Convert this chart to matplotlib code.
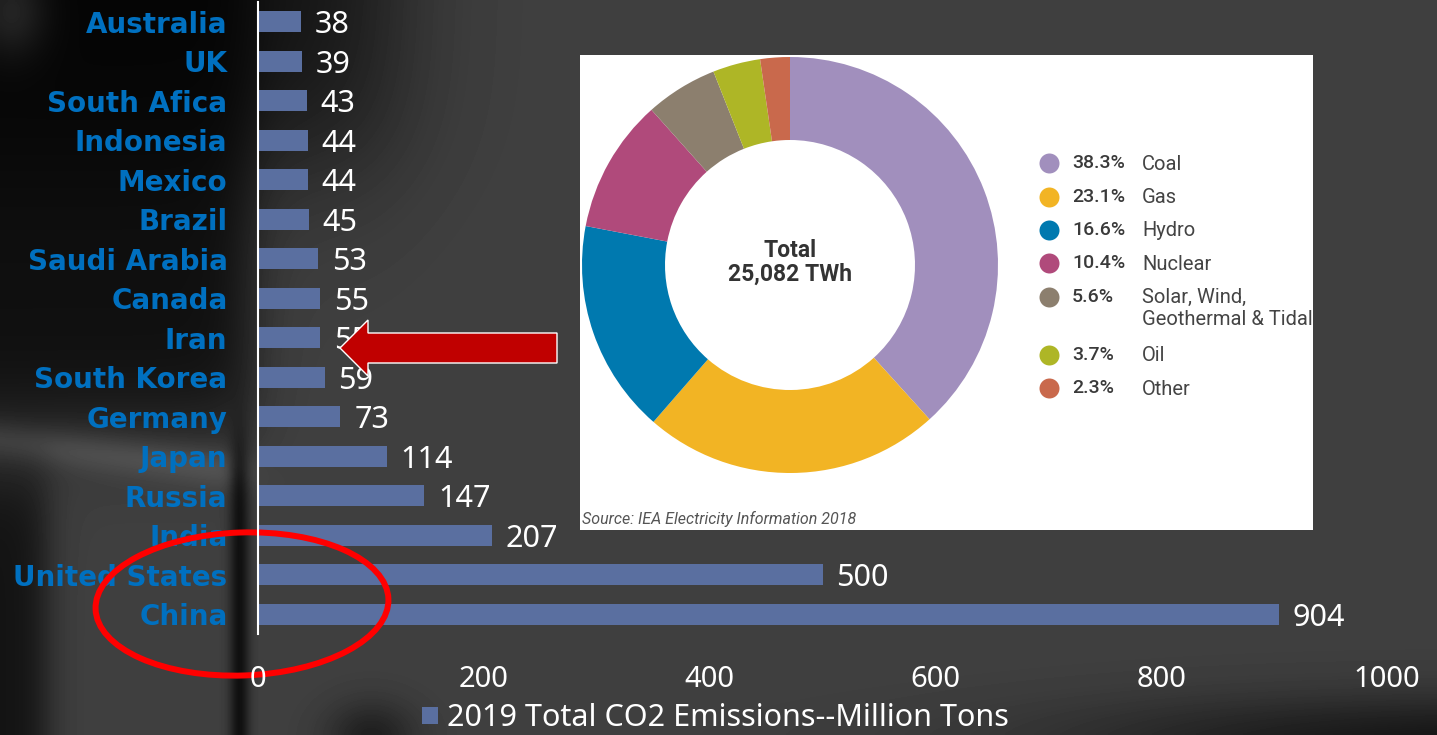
import numpy as np
import matplotlib
matplotlib.use("Agg")
import matplotlib.pyplot as plt
from matplotlib.patches import Polygon, Ellipse

# ---- data -------------------------------------------------------------
countries = ["Australia", "UK", "South Afica", "Indonesia", "Mexico", "Brazil",
             "Saudi Arabia", "Canada", "Iran", "South Korea", "Germany", "Japan",
             "Russia", "India", "United States", "China"]
emissions = [38, 39, 43, 44, 44, 45, 53, 55, 55, 59, 73, 114, 147, 207, 500, 904]
series_name = "2019 Total CO2 Emissions--Million Tons"
x_ticks = [0, 200, 400, 600, 800, 1000]

mix_share = [38.3, 23.1, 16.6, 10.4, 5.6, 3.7, 2.3]
mix_source = ["Coal", "Gas", "Hydro", "Nuclear", "Solar, Wind,\nGeothermal & Tidal", "Oil", "Other"]
mix_colors = ["#A18FBD", "#F2B424", "#0079AF", "#B04A7B", "#8C7F6E", "#AEB626", "#C9694C"]
mix_total = "Total\n25,082 TWh"
mix_note = "Source: IEA Electricity Information 2018"

W, H = 1437, 735
fig = plt.figure(figsize=(W / 100, H / 100), dpi=100)
fig.patch.set_facecolor("#3f3f3f")

# ---- soft photographic backdrop --------------------------------------
def sig(t):
    return 1.0 / (1.0 + np.exp(-t))

X, Y = np.meshgrid(np.arange(0, W, 3.0), np.arange(0, H, 3.0))
v = np.full(X.shape, 0.25)
v *= 1 - 0.75 * sig((250 - X) / 15) * sig((425 - Y) / 25)
v *= 1 - 0.70 * sig((390 - X) / 35) * sig((160 - Y) / 45)
v += 0.10 * np.exp(-((Y - (440 + 0.12 * X)) / 20) ** 2) * sig((245 - X) / 10)
v += 0.12 * np.exp(-(((X - 10) / 35) ** 2 + ((Y - 10) / 45) ** 2))
v *= 1 - 0.70 * sig((45 - X) / 10) * sig((Y - 470) / 20)
v *= 1 - 0.75 * np.exp(-((X - 238) / 10) ** 2) * sig((Y - 440) / 20)
v *= 1 - 0.50 * np.exp(-(((X - 370) / 45) ** 2 + ((Y - 735) / 35) ** 2))
v *= 1 - 0.80 * sig((X - 1150) / 120) * sig((Y - 705) / 15)

bg = fig.add_axes([0, 0, 1, 1], zorder=-10)
bg.imshow(v, cmap="gray", vmin=0, vmax=1, extent=[0, W, H, 0],
          aspect="auto", interpolation="bilinear")
bg.set_xlim(0, W)
bg.set_ylim(H, 0)
bg.axis("off")

# ---- bar chart ----------------------------------------------------------
ax = fig.add_axes([258 / W, 101 / H, 1129 / W, 632 / H], zorder=1)
ax.set_facecolor("none")
bars = ax.barh(countries, emissions, height=0.54, color="#5A6FA0",
               label=series_name, zorder=1)
ax.set_ylim(len(countries) - 0.5, -0.5)
ax.set_xlim(0, 1000)
ax.set_xticks(x_ticks)

value_texts = ax.bar_label(bars, labels=[str(e) for e in emissions], padding=10,
                           color="white", fontsize=22, family="Noto Sans")
for t in value_texts:
    t.set_va("center_baseline")

for s in ["top", "right", "bottom"]:
    ax.spines[s].set_visible(False)
ax.spines["left"].set_color("white")
ax.spines["left"].set_linewidth(1.5)

ax.tick_params(axis="y", length=0, pad=22)
ax.tick_params(axis="x", length=0, pad=22, colors="white")
for t in ax.get_yticklabels():
    t.set_fontfamily("DejaVu Sans")
    t.set_fontweight("bold")
    t.set_fontsize(20)
    t.set_color("#0070C0")
for t in ax.get_xticklabels():
    t.set_fontfamily("Noto Sans")
    t.set_fontsize(21)
ax.xaxis.set_zorder(3)

leg = ax.legend(loc="center", bbox_to_anchor=(0.498, 0.023),
                bbox_transform=fig.transFigure, frameon=False,
                prop={"family": "Noto Sans", "size": 22}, labelcolor="white",
                handlelength=0.5, handleheight=0.5, handletextpad=0.3)

# highlight ring around the two largest emitters
ring = Ellipse((242 / 100, (H - 604) / 100), 2.93, 1.43, angle=2,
               transform=fig.dpi_scale_trans, fill=False,
               edgecolor="#FF0000", linewidth=4.3, zorder=2, clip_on=False)
ax.add_patch(ring)

# pointer arrow
arrow_px = [(340, 348), (368, 320), (368, 333), (557, 333),
            (557, 363), (368, 363), (368, 376)]
arrow = Polygon([(x / 100, (H - y) / 100) for x, y in arrow_px],
                closed=True, transform=fig.dpi_scale_trans,
                facecolor="#C00000", edgecolor="white", linewidth=1.0,
                zorder=5, clip_on=False)
ax.add_patch(arrow)

# ---- electricity mix donut -------------------------------------------
bw, bh = 733, 475
axp = fig.add_axes([580 / W, (H - 530) / H, bw / W, bh / H], zorder=2)
axp.set_facecolor("white")
cx, cy, r_out, r_in = 210, 265, 208, 125
axp.pie(mix_share, colors=mix_colors, startangle=90, counterclock=False,
        center=(cx, cy), radius=r_out, frame=True,
        wedgeprops=dict(width=r_out - r_in, linewidth=0))
axp.set_xlim(0, bw)
axp.set_ylim(0, bh)
axp.set_aspect("auto")
axp.set_xticks([])
axp.set_yticks([])
for s in axp.spines.values():
    s.set_visible(False)

axp.text(cx, cy + 3, mix_total, ha="center", va="center", fontsize=16.5,
         fontweight="bold", family="Roboto", color="#333333", linespacing=1.05)

row_y = 530 - 163.3
for share, src, col in zip(mix_share, mix_source, mix_colors):
    axp.plot([469], [row_y], "o", ms=14.4, color=col, mec="none", clip_on=False)
    axp.text(492, row_y, f"{share:.1f}%", ha="left", va="center", fontsize=14,
             family="Roboto", fontweight="medium", color="#3a3a3a")
    axp.text(562, row_y + 8.5, src, ha="left", va="top", fontsize=14.5,
             family="Roboto", color="#444444", linespacing=1.2, clip_on=True)
    row_y -= 33.3 + 25 * src.count("\n")

axp.text(2, 11, mix_note, ha="left", va="center", fontsize=11.5, style="italic",
         family="Roboto", color="#555555")

fig.savefig("out.png", dpi=100, facecolor=fig.get_facecolor())
